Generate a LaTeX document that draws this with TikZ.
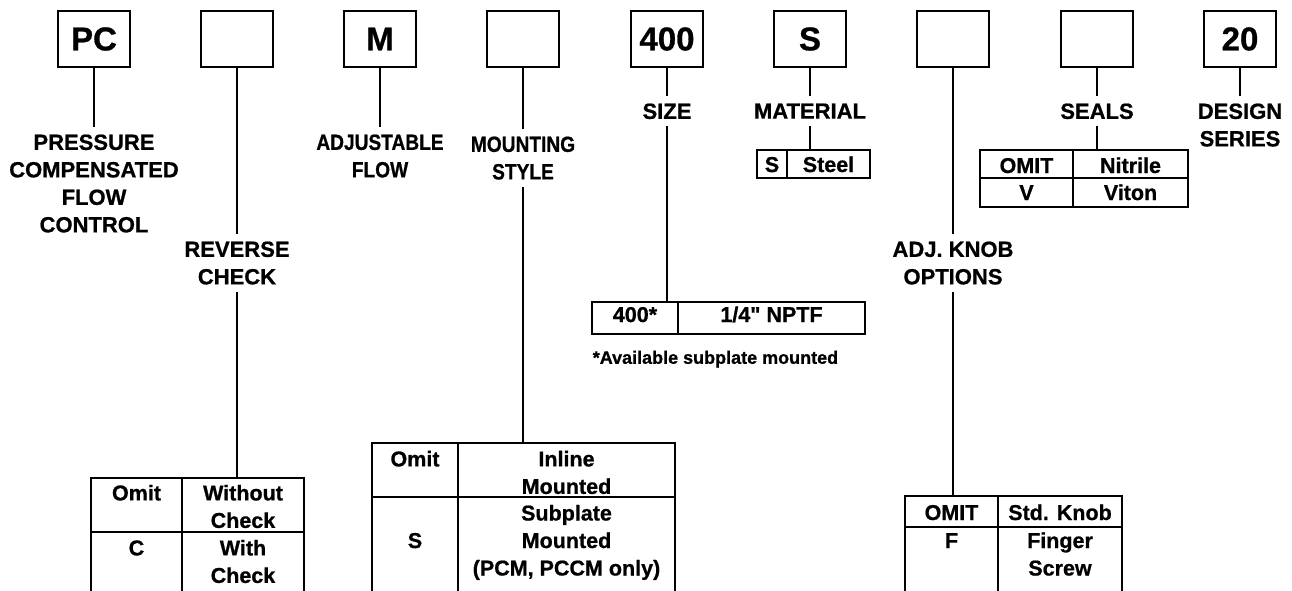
\documentclass[tikz,border=0pt]{standalone}
\usepackage{fontspec}
\setmainfont{Liberation Sans}[Ligatures=TeXOff, BoldFeatures={FakeBold=0.8}]
\newfontfamily\narrowfont{Liberation Sans}[FakeStretch=0.87, BoldFeatures={FakeBold=0.8}]
\usetikzlibrary{positioning}

\begin{document}
\begin{tikzpicture}[
        x=1pt, y=-1pt,
        line width=1.5pt,
        font=\bfseries,
        code/.style={rectangle, draw, minimum width=72pt, minimum height=56pt, inner sep=0pt, font=\fontsize{33}{33}\selectfont\bfseries},
        tag/.style={align=center, inner xsep=0pt, inner ysep=6.5pt, font=\fontsize{22}{27.5}\selectfont\bfseries},
        narrowtag/.style={tag, font=\fontsize{22}{27.5}\selectfont\narrowfont\bfseries},
        cell/.style={rectangle, draw, anchor=north west, inner sep=0pt, outer sep=0pt, align=center, font=\fontsize{21.5}{27.5}\selectfont\bfseries},
        note/.style={inner sep=0pt, font=\fontsize{18}{22}\selectfont\bfseries}
    ]
        \useasboundingbox (0,0) rectangle (1292,590);

        % Code boxes
        \node [code] (pc) at (94,39) {PC};
        \node [code] (rev) at (237,39) {};
        \node [code] (adj) at (380,39) {M};
        \node [code] (mount) at (523,39) {};
        \node [code] (size) at (667,39) {400};
        \node [code] (mat) at (810,39) {S};
        \node [code] (knob) at (953,39) {};
        \node [code] (seal) at (1097,39) {};
        \node [code] (series) at (1240,39) {20};

        % Labels
        \node [tag, below=59.5pt of pc] (pcLbl) {PRESSURE\\COMPENSATED\\FLOW\\CONTROL};
        \node [tag, below=166.5pt of rev] (revLbl) {REVERSE\\CHECK};
        \node [narrowtag, below=59.5pt of adj] (adjLbl) {ADJUSTABLE\\FLOW};
        \node [narrowtag, below=61.5pt of mount] (mountLbl) {MOUNTING\\STYLE};
        \node [tag, below=28.5pt of size] (sizeLbl) {SIZE};
        \node [tag, below=28.5pt of mat] (matLbl) {MATERIAL};
        \node [tag, below=166.5pt of knob] (knobLbl) {ADJ. KNOB\\OPTIONS};
        \node [tag, below=28.5pt of seal] (sealLbl) {SEALS};
        \node [tag, below=28.5pt of series] (seriesLbl) {DESIGN\\SERIES};

        % Reverse check table
        \node [cell, minimum width=91pt, text height=22.4pt, text depth=31.6pt] (revA1) at (91,478) {Omit};
        \node [cell, minimum width=122pt, text height=49.9pt, text depth=4.1pt, right=0pt of revA1] (revB1) {Without\\Check};
        \node [cell, minimum width=91pt, text height=23.4pt, text depth=36.6pt, below=0pt of revA1] (revA2) {C};
        \node [cell, minimum width=122pt, text height=50.9pt, text depth=9.1pt, below=0pt of revB1] (revB2) {With\\Check};

        % Mounting style table
        \node [cell, minimum width=86pt, text height=23.4pt, text depth=30.6pt] (mountA1) at (372,443) {Omit};
        \node [cell, minimum width=217pt, text height=50.9pt, text depth=3.1pt, right=0pt of mountA1] (mountB1) {Inline\\Mounted};
        \node [cell, minimum width=86pt, text height=51pt, text depth=44pt, below=0pt of mountA1] (mountA2) {S};
        \node [cell, minimum width=217pt, text height=78.5pt, text depth=16.5pt, below=0pt of mountB1] (mountB2) {Subplate\\Mounted\\(PCM, PCCM only)};

        % Size table
        \node [cell, minimum width=86pt, text height=20pt, text depth=12pt] (sizeA) at (592,302) {400*};
        \node [cell, minimum width=187pt, text height=20pt, text depth=12pt, right=0pt of sizeA] (sizeB) {1/4" NPTF};
        \node [note, below=16pt of sizeA.south west, anchor=north west] (sizeNote) {*Available subplate mounted};

        % Material table
        \node [cell, minimum width=30pt, text height=22pt, text depth=6pt] (matA) at (757,150) {S};
        \node [cell, minimum width=83pt, text height=22pt, text depth=6pt, right=0pt of matA] (matB) {Steel};

        % Knob table
        \node [cell, minimum width=93pt, text height=24pt, text depth=7pt] (knobA1) at (905,496) {OMIT};
        \node [cell, minimum width=124pt, text height=24pt, text depth=7pt, right=0pt of knobA1] (knobB1) {Std. Knob};
        \node [cell, minimum width=93pt, text height=21pt, text depth=44pt, below=0pt of knobA1] (knobA2) {F};
        \node [cell, minimum width=124pt, text height=48.5pt, text depth=16.5pt, below=0pt of knobB1] (knobB2) {Finger\\Screw};

        % Seals table
        \node [cell, minimum width=93pt, text height=23pt, text depth=5pt] (sealA1) at (980,150) {OMIT};
        \node [cell, minimum width=115pt, text height=23pt, text depth=5pt, right=0pt of sealA1] (sealB1) {Nitrile};
        \node [cell, minimum width=93pt, text height=22pt, text depth=7pt, below=0pt of sealA1] (sealA2) {V};
        \node [cell, minimum width=115pt, text height=22pt, text depth=7pt, below=0pt of sealB1] (sealB2) {Viton};

        % Edges
        \draw (pc) -- (pcLbl);
        \draw (rev) -- (revLbl);
        \draw (revLbl) -- (revLbl |- revB1.north);
        \draw (adj) -- (adjLbl);
        \draw (mount) -- (mountLbl);
        \draw (mountLbl) -- (mountLbl |- mountB1.north);
        \draw (size) -- (sizeLbl);
        \draw (sizeLbl) -- (sizeLbl |- sizeA.north);
        \draw (mat) -- (matLbl);
        \draw (matLbl) -- (matLbl |- matB.north);
        \draw (knob) -- (knobLbl);
        \draw (knobLbl) -- (knobLbl |- knobA1.north);
        \draw (seal) -- (sealLbl);
        \draw (sealLbl) -- (sealLbl |- sealB1.north);
        \draw (series) -- (seriesLbl);

    \end{tikzpicture}
\end{document}
